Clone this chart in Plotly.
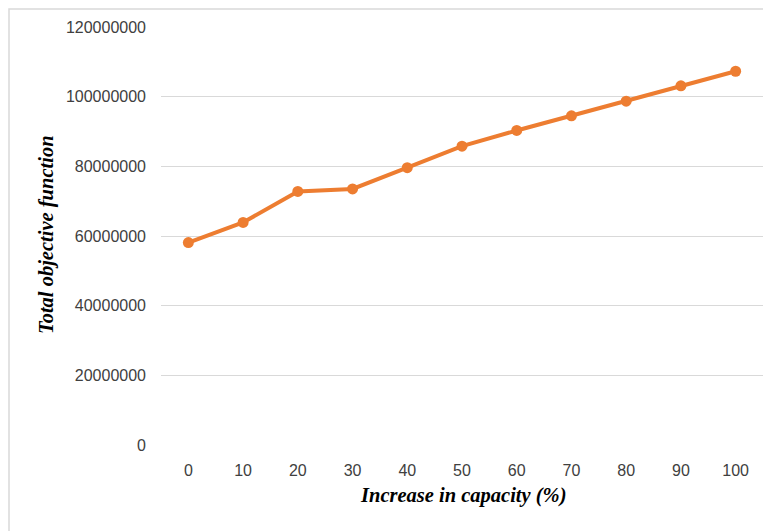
import plotly.graph_objects as go

capacity_increase = [0, 10, 20, 30, 40, 50, 60, 70, 80, 90, 100]
total_objective = [58100000, 63900000, 72800000, 73500000, 79600000, 85800000,
                   90300000, 94500000, 98700000, 103100000, 107300000]
y_ticks = [0, 20000000, 40000000, 60000000, 80000000, 100000000, 120000000]

x_labels = [str(v) for v in capacity_increase]

# page body has an 8px margin; figure occupies 763x523 starting at (8, 8)
W, H = 763, 523
L, R, T, B = 153, 8, 19, 86
PW, PH = W - L - R, H - T - B

fig = go.Figure()
fig.add_trace(go.Scatter(
    x=x_labels, y=total_objective, mode="lines+markers",
    line=dict(color="#ED7D31", width=4),
    marker=dict(color="#ED7D31", size=11),
    showlegend=False,
))

tick_font = dict(family="Liberation Sans", size=16, color="#404040")

fig.update_layout(
    width=W, height=H, autosize=False,
    margin=dict(l=L, r=R, t=T, b=B),
    paper_bgcolor="white", plot_bgcolor="white",
    font=tick_font,
    xaxis=dict(
        type="category", range=[-0.5, 10.5],
        showgrid=False, showline=False, zeroline=False,
        ticks="", ticklabelstandoff=14, tickfont=tick_font,
    ),
    yaxis=dict(
        range=[0, 120000000], tickvals=y_ticks,
        ticktext=[str(v) for v in y_ticks],
        showgrid=True, gridcolor="#D9D9D9", gridwidth=1.3,
        zeroline=False, showline=False, ticks="", ticklabelstandoff=14,
        tickfont=tick_font,
    ),
    shapes=[dict(type="rect", xref="paper", yref="paper",
                 x0=-(L - 1) / PW, x1=1.2, y0=-0.5, y1=1 + (T - 1) / PH,
                 line=dict(color="#D9D9D9", width=1.5), fillcolor="rgba(0,0,0,0)",
                 layer="below")],
    annotations=[
        dict(text="<b><i>Increase in capacity (%)</i></b>", xref="paper", yref="paper",
             x=(463 - 161) / PW, y=-(495 - 445) / PH, showarrow=False,
             xanchor="center", yanchor="middle",
             font=dict(family="Liberation Serif", size=20.5, color="#000000")),
        dict(text="<b><i>Total objective function</i></b>", xref="paper", yref="paper",
             x=-(161 - 46) / PW, y=(445 - 235) / PH, showarrow=False, textangle=-90,
             xanchor="center", yanchor="middle",
             font=dict(family="Liberation Serif", size=20.5, color="#000000")),
    ],
)

fig.write_html("out.html")
